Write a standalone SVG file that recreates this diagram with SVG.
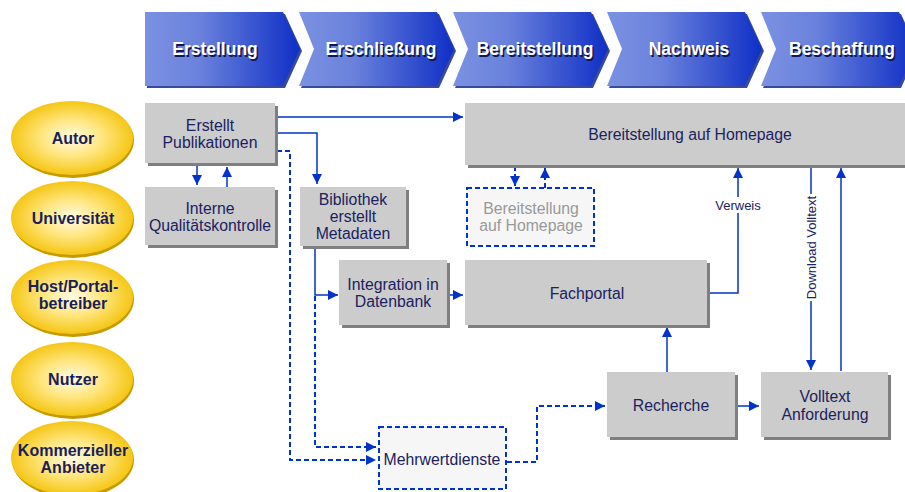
<svg xmlns="http://www.w3.org/2000/svg" width="905" height="492" viewBox="0 0 905 492">
<defs>
<linearGradient id="chev" x1="0" y1="0" x2="1" y2="0">
<stop offset="0" stop-color="#7b91e2"/>
<stop offset="0.35" stop-color="#6a82dc"/>
<stop offset="1" stop-color="#0f2fc6"/>
</linearGradient>
<radialGradient id="gold" cx="0.5" cy="0.5" r="0.55">
<stop offset="0" stop-color="#fffbe6"/>
<stop offset="0.45" stop-color="#ffe680"/>
<stop offset="1" stop-color="#f3c000"/>
</radialGradient>
<marker id="ah" markerUnits="userSpaceOnUse" markerWidth="12" markerHeight="12" refX="10" refY="5" orient="auto">
<path d="M0,0 L10,5 L0,10 Z" fill="#0033cc"/>
</marker>
</defs>
<style>
.chs{fill:#3a4a9a}
.ch{fill:url(#chev)}
.cht{font-family:"Liberation Sans",Arial,sans-serif;font-weight:bold;font-size:17.5px;text-anchor:middle}
.sh{fill:#101850}
.wh{fill:#ffffff}
.ell{fill:url(#gold)}
.ells{fill:#c89a00}
.et{font-family:"Liberation Sans",Arial,sans-serif;font-weight:bold;font-size:16px;fill:#1a1f55;text-anchor:middle}
.box{fill:#cccccc}
.bsh{fill:#7f7f7f}
.bt{font-family:"Liberation Sans",Arial,sans-serif;font-size:15.8px;fill:#1a2260;text-anchor:middle}
.dbox{fill:#f6f6f6;stroke:#0033cc;stroke-width:2;stroke-dasharray:5,3}
.gt{fill:#999999}
.ln{fill:none;stroke:#0033cc;stroke-width:1.5}
.dl{fill:none;stroke:#0033cc;stroke-width:2;stroke-dasharray:5,3}
.lt{font-family:"Liberation Sans",Arial,sans-serif;font-size:13px;fill:#1a2260;text-anchor:middle}
</style>

<g id="phases">
<g id="p1">
<path class="chs" d="M147,14 H285 L302,51 L285,88 H147 Z"/>
<path class="ch" d="M145,12 H283 L300,49 L283,86 H145 Z"/>
<text class="cht sh" x="216.5" y="56.5">Erstellung</text>
<text class="cht wh" x="215" y="55">Erstellung</text>
</g>
<g id="p2">
<path class="chs" d="M301,14 H439 L456,51 L439,88 H301 L316,51 Z"/>
<path class="ch" d="M299,12 H437 L454,49 L437,86 H299 L314,49 Z"/>
<text class="cht sh" x="382.5" y="56.5">Erschließung</text>
<text class="cht wh" x="381" y="55">Erschließung</text>
</g>
<g id="p3">
<path class="chs" d="M455,14 H593 L610,51 L593,88 H455 L470,51 Z"/>
<path class="ch" d="M453,12 H591 L608,49 L591,86 H453 L468,49 Z"/>
<text class="cht sh" x="536.5" y="56.5">Bereitstellung</text>
<text class="cht wh" x="535" y="55">Bereitstellung</text>
</g>
<g id="p4">
<path class="chs" d="M609,14 H747 L764,51 L747,88 H609 L624,51 Z"/>
<path class="ch" d="M607,12 H745 L762,49 L745,86 H607 L622,49 Z"/>
<text class="cht sh" x="690.5" y="56.5">Nachweis</text>
<text class="cht wh" x="689" y="55">Nachweis</text>
</g>
<g id="p5">
<path class="chs" d="M763,14 H901 L918,51 L901,88 H763 L778,51 Z"/>
<path class="ch" d="M761,12 H899 L916,49 L899,86 H761 L776,49 Z"/>
<text class="cht sh" x="843.5" y="56.5">Beschaffung</text>
<text class="cht wh" x="842" y="55">Beschaffung</text>
</g>
</g>

<g id="roles">
<g id="autor"><ellipse class="ells" cx="73" cy="140" rx="61" ry="38"/><ellipse class="ell" cx="72" cy="138" rx="61" ry="37"/><text class="et" x="73" y="144">Autor</text></g>
<g id="uni"><ellipse class="ells" cx="73" cy="220" rx="61" ry="38"/><ellipse class="ell" cx="72" cy="218" rx="61" ry="37"/><text class="et" x="73" y="224">Universität</text></g>
<g id="host"><ellipse class="ells" cx="73" cy="299" rx="61" ry="38"/><ellipse class="ell" cx="72" cy="297" rx="61" ry="37"/><text class="et" x="73" y="292">Host/Portal-</text><text class="et" x="73" y="309">betreiber</text></g>
<g id="nutzer"><ellipse class="ells" cx="73" cy="381" rx="61" ry="38"/><ellipse class="ell" cx="72" cy="379" rx="61" ry="37"/><text class="et" x="73" y="385">Nutzer</text></g>
<g id="komm"><ellipse class="ells" cx="73" cy="460" rx="61" ry="38"/><ellipse class="ell" cx="72" cy="458" rx="61" ry="37"/><text class="et" x="73" y="456">Kommerzieller</text><text class="et" x="73" y="473">Anbieter</text></g>
</g>

<g id="connectors">
<path class="ln" d="M275,117 H463" marker-end="url(#ah)"/>
<path class="ln" d="M275,133 H317 V184" marker-end="url(#ah)"/>
<path class="ln" d="M197,166 V185" marker-end="url(#ah)"/>
<path class="ln" d="M227,187 V167" marker-end="url(#ah)"/>
<path class="dl" d="M277,151 H290 V460 H376" marker-end="url(#ah)"/>
<path class="ln" d="M315,247 V295 H338" marker-end="url(#ah)"/>
<path class="dl" d="M315,296 V447 H376" marker-end="url(#ah)"/>
<path class="ln" d="M447,295 H463" marker-end="url(#ah)"/>
<path class="dl" d="M515,166 V186" marker-end="url(#ah)"/>
<path class="dl" d="M545,188 V168" marker-end="url(#ah)"/>
<path class="ln" d="M707,293 H738 V168" marker-end="url(#ah)"/>
<path class="ln" d="M811,166 V370" marker-end="url(#ah)"/>
<path class="ln" d="M841,371 V168" marker-end="url(#ah)"/>
<path class="ln" d="M667,372 V327" marker-end="url(#ah)"/>
<path class="ln" d="M735,406 H759" marker-end="url(#ah)"/>
<path class="dl" d="M507,462 H537 V406 H605" marker-end="url(#ah)"/>
<rect x="711" y="197" width="54" height="16" fill="#ffffff"/>
<text class="lt" x="738" y="209.5">Verweis</text>
<rect x="803" y="194" width="16" height="107" fill="#ffffff"/>
<text class="lt" transform="translate(815.5,247.5) rotate(-90)" x="0" y="0">Download Volltext</text>
</g>

<g id="n-erstellt"><rect class="bsh" x="148" y="106" width="130" height="60"/><rect class="box" x="145" y="103" width="130" height="60"/><text class="bt" x="210" y="131">Erstellt</text><text class="bt" x="210" y="148">Publikationen</text></g>
<g id="n-interne"><rect class="bsh" x="148" y="190" width="130" height="58"/><rect class="box" x="145" y="187" width="130" height="58"/><text class="bt" x="210" y="214">Interne</text><text class="bt" x="210" y="231">Qualitätskontrolle</text></g>
<g id="n-bereit"><rect class="bsh" x="468" y="106" width="440" height="62"/><rect class="box" x="465" y="103" width="440" height="62"/><text class="bt" x="690" y="140">Bereitstellung auf Homepage</text></g>
<g id="n-bereit2"><rect class="dbox" x="467" y="188" width="127" height="58"/><text class="bt gt" x="531" y="214">Bereitstellung</text><text class="bt gt" x="531" y="231">auf Homepage</text></g>
<g id="n-biblio"><rect class="bsh" x="303" y="190" width="106" height="59"/><rect class="box" x="300" y="187" width="106" height="59"/><text class="bt" x="353" y="205">Bibliothek</text><text class="bt" x="353" y="222">erstellt</text><text class="bt" x="353" y="239">Metadaten</text></g>
<g id="n-integ"><rect class="bsh" x="342" y="263" width="108" height="65"/><rect class="box" x="339" y="260" width="108" height="65"/><text class="bt" x="393" y="290">Integration in</text><text class="bt" x="393" y="307">Datenbank</text></g>
<g id="n-fach"><rect class="bsh" x="468" y="263" width="242" height="65"/><rect class="box" x="465" y="260" width="242" height="65"/><text class="bt" x="587" y="299">Fachportal</text></g>
<g id="n-recherche"><rect class="bsh" x="610" y="375" width="128" height="65"/><rect class="box" x="607" y="372" width="128" height="65"/><text class="bt" x="671" y="411">Recherche</text></g>
<g id="n-volltext"><rect class="bsh" x="764" y="375" width="127" height="65"/><rect class="box" x="761" y="372" width="127" height="65"/><text class="bt" x="825" y="402">Volltext</text><text class="bt" x="825" y="420">Anforderung</text></g>
<g id="n-mehr"><rect class="dbox" x="379" y="427" width="127" height="62"/><text class="bt" x="442" y="465">Mehrwertdienste</text></g>
</svg>
